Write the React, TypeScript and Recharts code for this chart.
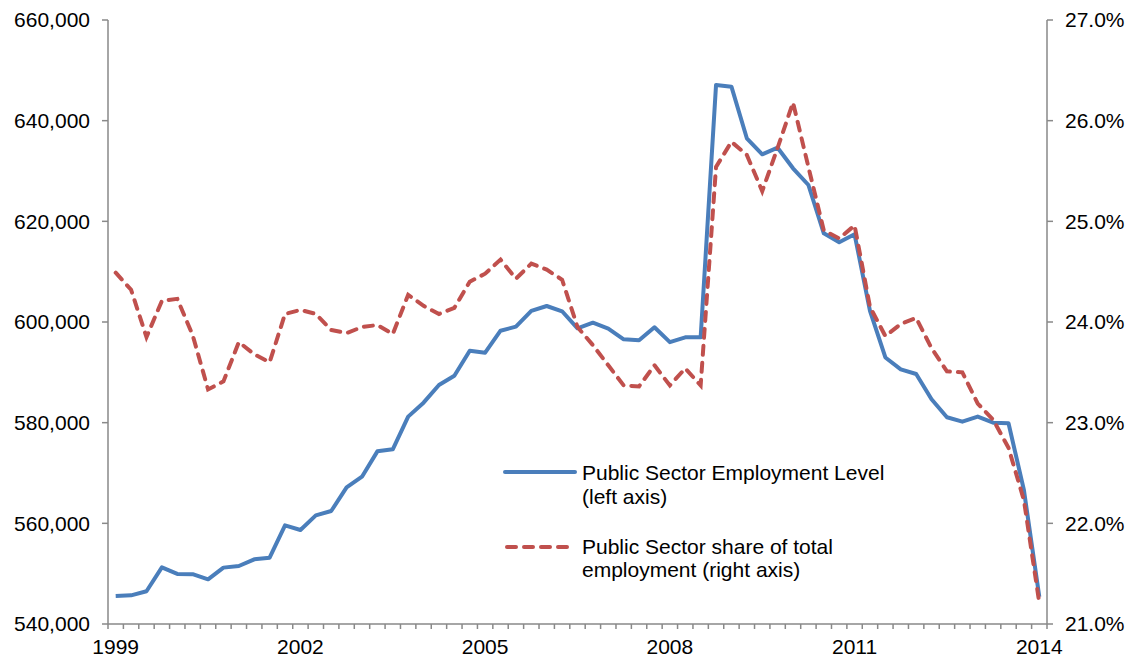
import React from 'react';
import { LineChart, Line, XAxis, YAxis, Legend } from 'recharts';

// quarterly, 1999 Q1 .. 2014 Q1
const employment = [
  545560, 545700, 546500, 551260, 549950, 549900, 548870, 551200, 551520, 552850,
  553170, 559600, 558680, 561590, 562450, 567150, 569270, 574300, 574700, 581200,
  583970, 587480, 589330, 594300, 593900, 598270, 599070, 602200, 603180, 602130,
  598750, 599860, 598690, 596560, 596370, 598950, 596000, 596960, 596960, 647090,
  646750, 636500, 633310, 634630, 630540, 627220, 617620, 615830, 617420, 602200,
  592950, 590600, 589670, 584640, 581070, 580200, 581200, 580000, 579870, 566620,
  545420,
];

const share = [
  24.49, 24.32, 23.85, 24.21, 24.23, 23.87, 23.33, 23.41, 23.80, 23.68,
  23.60, 24.08, 24.12, 24.08, 23.92, 23.89, 23.95, 23.97, 23.88, 24.27,
  24.16, 24.08, 24.14, 24.40, 24.48, 24.62, 24.43, 24.58, 24.52, 24.42,
  23.95, 23.77, 23.57, 23.37, 23.36, 23.57, 23.37, 23.54, 23.37, 25.54,
  25.79, 25.66, 25.30, 25.73, 26.18, 25.54, 24.91, 24.83, 24.96, 24.15,
  23.86, 23.98, 24.04, 23.74, 23.51, 23.50, 23.19, 23.03, 22.75, 22.23,
  21.21,
];

const yearTicks = [0, 12, 24, 36, 48, 60];
const yearLabels = ['1999', '2002', '2005', '2008', '2011', '2014'];
const leftTicks = [540000, 560000, 580000, 600000, 620000, 640000, 660000];
const rightTicks = [21, 22, 23, 24, 25, 26, 27];

const LEVEL_NAME = ['Public Sector Employment Level', '(left axis)'];
const SHARE_NAME = ['Public Sector share of total', 'employment (right axis)'];

const BLUE = '#4a7ebb';
const RED = '#c0504d';
const AXIS = '#898989';
const FONT = '"Liberation Sans", Arial, sans-serif';

const data = employment.map((v, i) => ({ i, level: v, share: share[i] }));
const lastIdx = data.length - 1;
// tick marks sit between categories, like Excel
const boundaryTicks = [...data.map((d) => d.i - 0.5), lastIdx + 0.5];

const renderLegend = () => (
  <svg width={420} height={140} style={{ fontFamily: FONT, fontSize: 21 }}>
    <line x1={5} y1={22} x2={75} y2={22} stroke={BLUE} strokeWidth={4} strokeLinecap="round" />
    <text x={82} y={30} fill="#000">{LEVEL_NAME[0]}</text>
    <text x={82} y={53.5} fill="#000">{LEVEL_NAME[1]}</text>
    <line x1={7} y1={97} x2={72} y2={97} stroke={RED} strokeWidth={4} strokeDasharray="9 8" strokeLinecap="round" />
    <text x={82} y={103.5} fill="#000">{SHARE_NAME[0]}</text>
    <text x={82} y={127} fill="#000">{SHARE_NAME[1]}</text>
  </svg>
);

const App: React.FC = () => {
  return (
    <div style={{ position: 'absolute', left: 0, top: 0, background: '#fff', fontFamily: FONT }}>
      <LineChart width={1131} height={659} data={data} margin={{ top: 20, right: 0, bottom: 0, left: 0 }}>
        <XAxis
          xAxisId="q"
          dataKey="i"
          type="number"
          domain={[-0.5, lastIdx + 0.5]}
          ticks={boundaryTicks}
          interval={0}
          tickFormatter={() => ''}
          height={6}
          tickSize={5}
          stroke={AXIS}
          strokeWidth={1.5}
        />
        <XAxis
          xAxisId="yr"
          dataKey="i"
          type="number"
          domain={[-0.5, lastIdx + 0.5]}
          ticks={yearTicks}
          interval={0}
          tickFormatter={(v: number) => yearLabels[yearTicks.indexOf(v)] ?? ''}
          axisLine={false}
          tickLine={false}
          tickSize={0}
          tickMargin={9}
          height={29}
          tick={{ fill: '#000', fontSize: 21, fontFamily: FONT }}
        />
        <YAxis
          yAxisId="left"
          domain={[540000, 660000]}
          ticks={leftTicks}
          interval={0}
          width={108}
          tickSize={6}
          tickMargin={12}
          stroke={AXIS}
          strokeWidth={1.5}
          tick={{ fill: '#000', fontSize: 21, fontFamily: FONT }}
          tickFormatter={(v: number) => v.toLocaleString('en-US')}
        />
        <YAxis
          yAxisId="right"
          orientation="right"
          domain={[21, 27]}
          ticks={rightTicks}
          interval={0}
          width={84}
          tickSize={6}
          tickMargin={12}
          stroke={AXIS}
          strokeWidth={1.5}
          tick={{ fill: '#000', fontSize: 21, fontFamily: FONT }}
          tickFormatter={(v: number) => v.toFixed(1) + '%'}
        />
        <Legend
          layout="vertical"
          align="center"
          verticalAlign="middle"
          content={renderLegend}
          wrapperStyle={{ position: 'absolute', left: 500, top: 450, width: 420, height: 140 }}
        />
        <Line
          xAxisId="q"
          yAxisId="left"
          type="linear"
          dataKey="level"
          name={LEVEL_NAME.join(' ')}
          stroke={BLUE}
          strokeWidth={4}
          strokeLinejoin="round"
          dot={false}
          activeDot={false}
          isAnimationActive={false}
        />
        <Line
          xAxisId="q"
          yAxisId="right"
          type="linear"
          dataKey="share"
          name={SHARE_NAME.join(' ')}
          stroke={RED}
          strokeWidth={4}
          strokeDasharray="9 8"
          strokeLinecap="round"
          dot={false}
          activeDot={false}
          isAnimationActive={false}
        />
      </LineChart>
    </div>
  );
};

export default App;
